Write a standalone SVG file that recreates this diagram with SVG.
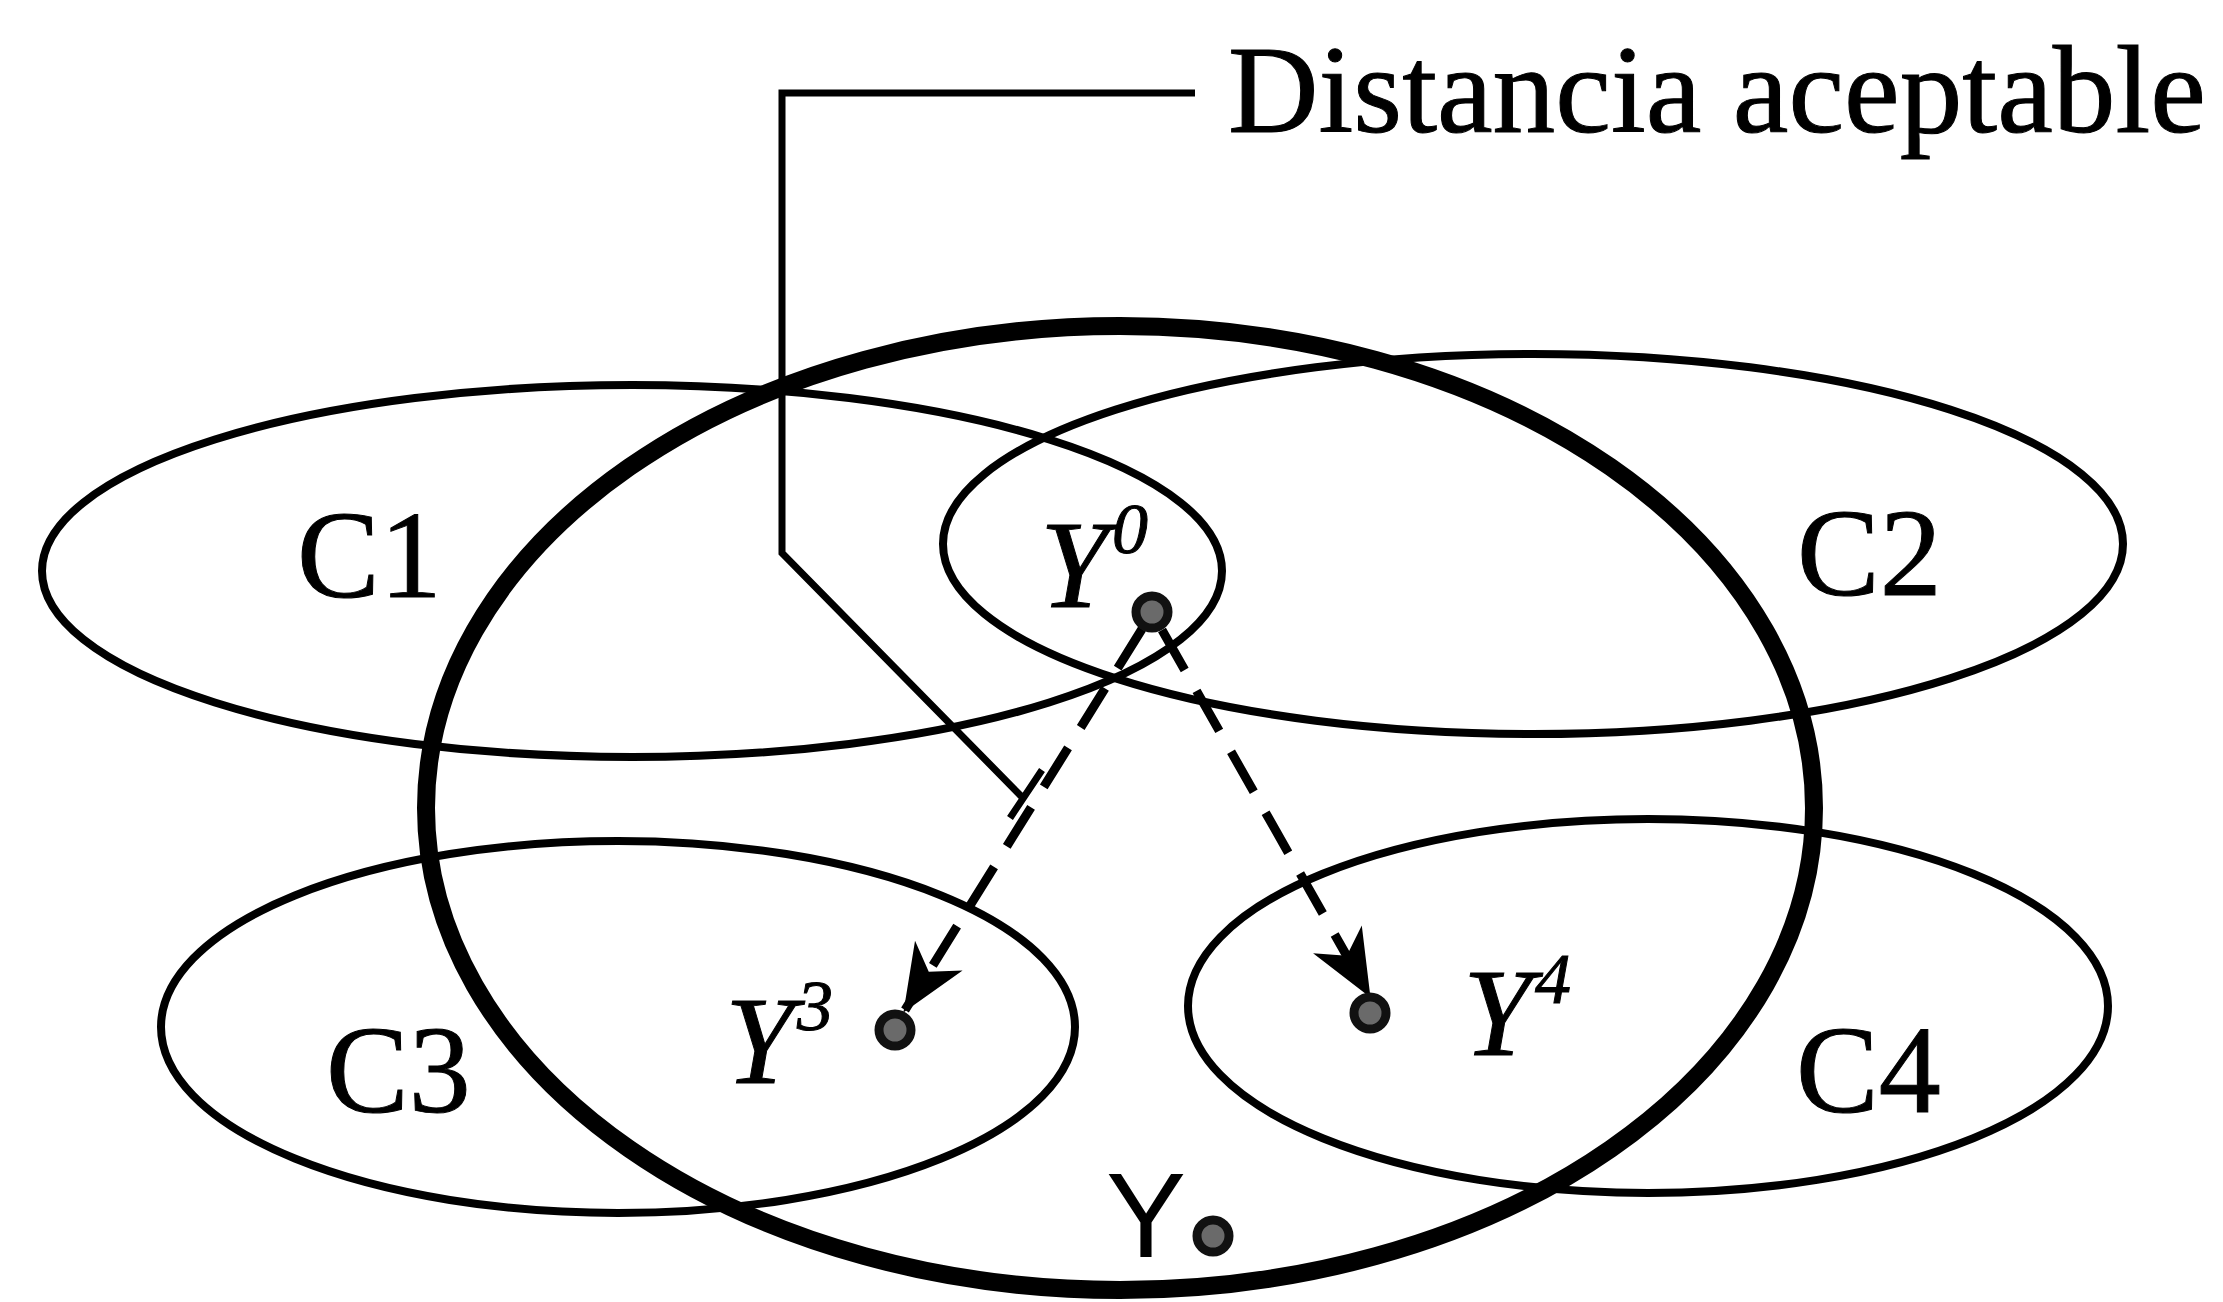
<svg xmlns="http://www.w3.org/2000/svg" width="2223" height="1302" viewBox="0 0 2223 1302">
<style>
.bg{fill:#fff}
.thin{fill:none;stroke:#000;stroke-width:8}
.thick{fill:none;stroke:#000;stroke-width:18}
.lbl{font-family:"Liberation Serif","Times New Roman",serif;font-size:124px;fill:#000;stroke:#000;stroke-width:1}
.it{font-family:"Liberation Serif","Times New Roman",serif;font-style:italic;font-size:124px;fill:#000;stroke:#000;stroke-width:1}
.sup{font-size:72px}
.sans{font-family:"Liberation Sans",Arial,sans-serif;font-size:120px;fill:#000}
.dot{fill:#6a6a6a;stroke:#111;stroke-width:9}
.dash{fill:none;stroke:#000;stroke-width:9;stroke-dasharray:46 24}
.leader{fill:none;stroke:#000;stroke-width:7;stroke-linejoin:miter}
</style>
<defs>
<marker id="ah" markerUnits="userSpaceOnUse" markerWidth="80" markerHeight="80" refX="0" refY="0" orient="auto" overflow="visible">
<path d="M3,0 L-64,-28 L-45,0 L-64,28 Z" fill="#000"/>
</marker>
</defs>
<rect class="bg" x="0" y="0" width="2223" height="1302"/>

<g id="C1"><ellipse class="thin" cx="632" cy="571" rx="590" ry="186"/><text class="lbl" x="297" y="597">C1</text></g>
<g id="C2"><ellipse class="thin" cx="1533" cy="544" rx="590" ry="190"/><text class="lbl" x="1797" y="595">C2</text></g>
<g id="C3"><ellipse class="thin" cx="618" cy="1027" rx="457" ry="186"/><text class="lbl" x="326" y="1112">C3</text></g>
<g id="C4"><ellipse class="thin" cx="1648" cy="1006" rx="460" ry="187"/><text class="lbl" x="1796" y="1112">C4</text></g>
<g id="Yset"><ellipse class="thick" cx="1120" cy="808" rx="694" ry="482"/></g>

<g id="connectors">
<path id="leader" class="leader" d="M1195,93 L782,93 L782,553 L1022,797 M1010,818 L1042,770"/>
<path id="arrow-Y0-Y3" class="dash" d="M1142,629 L905,1010" marker-end="url(#ah)"/>
<path id="arrow-Y0-Y4" class="dash" d="M1162,630 L1369,995" marker-end="url(#ah)"/>
</g>

<g id="label-distancia"><text class="lbl" x="1228" y="132" textLength="978" lengthAdjust="spacingAndGlyphs">Distancia aceptable</text></g>

<g id="Y0"><circle class="dot" cx="1152" cy="612" r="16"/><text class="it" x="1040" y="607">Y</text><text class="it sup" x="1112" y="553">0</text></g>
<g id="Y3"><circle class="dot" cx="895" cy="1030" r="16"/><text class="it" x="725" y="1083">Y</text><text class="it sup" x="797" y="1030">3</text></g>
<g id="Y4"><circle class="dot" cx="1370" cy="1013" r="16"/><text class="it" x="1463" y="1055">Y</text><text class="it sup" x="1535" y="1003">4</text></g>
<g id="Y"><circle class="dot" cx="1213" cy="1236" r="16"/><text class="sans" x="1106" y="1257">Y</text></g>
</svg>
